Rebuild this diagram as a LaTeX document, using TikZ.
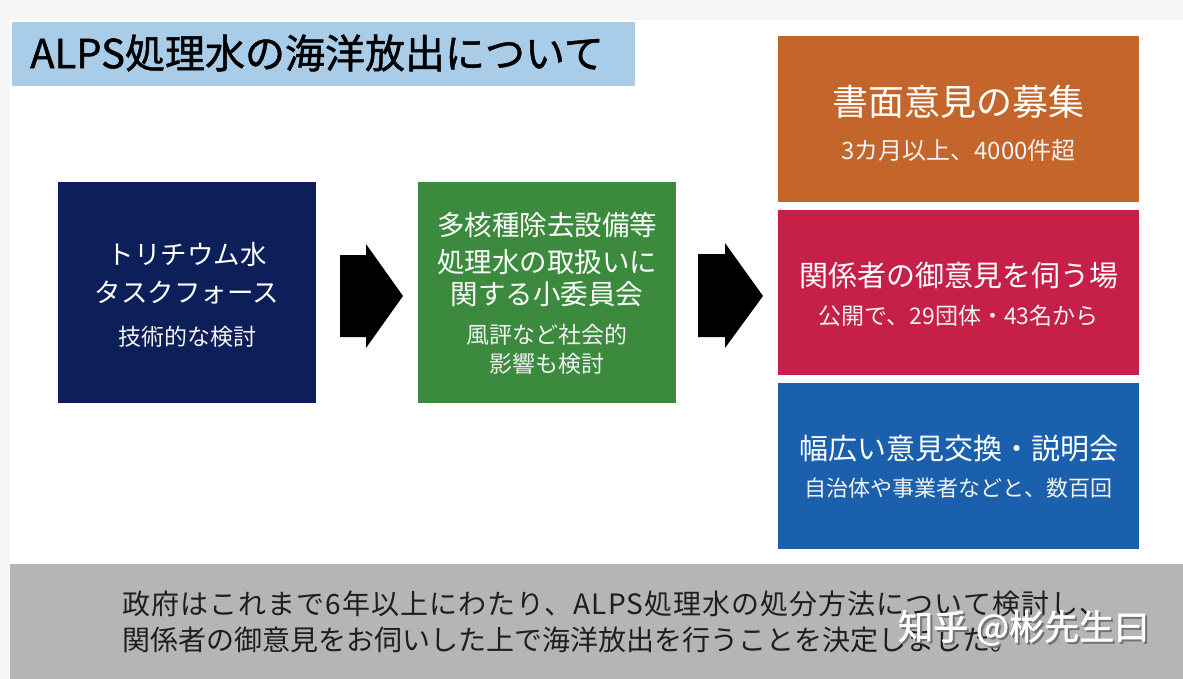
\documentclass[tikz,border=0pt]{standalone}
\usepackage{fontspec}
\setmainfont{Noto Sans CJK JP}
\definecolor{bgtop}{HTML}{F6F6F6}
\definecolor{titlebg}{HTML}{A9CDE8}
\definecolor{navy}{HTML}{0C1F58}
\definecolor{grn}{HTML}{3B8A3E}
\definecolor{org}{HTML}{C4662B}
\definecolor{rd}{HTML}{C62049}
\definecolor{blu}{HTML}{1B60AD}
\definecolor{band}{HTML}{B5B5B5}
\definecolor{bandtext}{HTML}{1E1E1E}
\tikzset{
  box/.style={rectangle, draw=none, inner sep=0pt, anchor=north west},
  head/.style={text=white, inner sep=0pt, anchor=center},
  sub/.style={text=white!90!gray, inner sep=0pt, anchor=center},
  blockarrow/.style={fill=black, draw=none},
  note/.style={text=bandtext, inner sep=0pt, anchor=west, font=\fontsize{28}{30}\selectfont},
}
\begin{document}
\begin{tikzpicture}[x=1pt,y=-1pt]
\useasboundingbox (0,0) rectangle (1183,679);
% background
\fill[bgtop] (0,0) rectangle (1183,679);
\fill[white] (10,20) rectangle (1183,564);
\fill[band] (10,564) rectangle (1183,679);
% title
\node[box, fill=titlebg, minimum width=623pt, minimum height=64pt] (titlebox) at (12,22) {};
\node[inner sep=0pt, anchor=west, font=\fontsize{40}{44}\selectfont\addfontfeature{FakeBold=1.2}] (title) at (30,53) {ALPS処理水の海洋放出について};
% left boxes
\node[box, fill=navy, minimum width=258pt, minimum height=221pt] (tf) at (58,182) {};
\node[head, font=\fontsize{26.5}{30}\selectfont] (tf1) at (187,254) {トリチウム水};
\node[head, font=\fontsize{26.5}{30}\selectfont] (tf2) at (187,293) {タスクフォース};
\node[sub, font=\fontsize{23}{26}\selectfont] (tf3) at (187,337) {技術的な検討};
\node[box, fill=grn, minimum width=258pt, minimum height=221pt] (sc) at (418,182) {};
\node[head, font=\fontsize{27.5}{30}\selectfont] (sc1) at (547,225) {多核種除去設備等};
\node[head, font=\fontsize{27.5}{30}\selectfont] (sc2) at (547,262) {処理水の取扱いに};
\node[head, font=\fontsize{27.5}{30}\selectfont] (sc3) at (547,294) {関する小委員会};
\node[sub, font=\fontsize{23}{26}\selectfont] (sc4) at (547,335) {風評など社会的};
\node[sub, font=\fontsize{23}{26}\selectfont] (sc5) at (547,364) {影響も検討};
% arrows
\fill[blockarrow] (340,255) -- (366,255) -- (366,244) -- (403,296) -- (366,348) -- (366,337) -- (340,337) -- cycle;
\fill[blockarrow] (698,254) -- (725,254) -- (725,243) -- (763,296) -- (725,348) -- (725,337) -- (698,337) -- cycle;
% right boxes
\node[box, fill=org, minimum width=361pt, minimum height=166pt] (wr) at (778,36) {};
\node[head, font=\fontsize{36}{40}\selectfont] (wr1) at (958.5,102) {書面意見の募集};
\node[sub, font=\fontsize{24}{28}\selectfont] (wr2) at (958.5,150) {3カ月以上、4000件超};
\node[box, fill=rd, minimum width=361pt, minimum height=165pt] (hr) at (778,210) {};
\node[head, font=\fontsize{29}{32}\selectfont] (hr1) at (958.5,276) {関係者の御意見を伺う場};
\node[sub, font=\fontsize{23}{26}\selectfont] (hr2) at (958.5,316) {公開で、29団体・43名から};
\node[box, fill=blu, minimum width=361pt, minimum height=166pt] (ex) at (778,383) {};
\node[head, font=\fontsize{29}{32}\selectfont] (ex1) at (958.5,449) {幅広い意見交換・説明会};
\node[sub, font=\fontsize{22}{26}\selectfont] (ex2) at (958.5,488) {自治体や事業者などと、数百回};
% bottom note
\node[note] (n1) at (122,604) {\addfontfeature{LetterSpace=3.8}政府はこれまで6年以上にわたり、ALPS処理水の処分方法について検討し、};
\node[note] (n2) at (122,640) {関係者の御意見をお伺いした上で海洋放出を行うことを決定しました。};
% watermark
\node[inner sep=0pt, anchor=west, text=black!55, font=\fontsize{35}{38}\selectfont\addfontfeature{FakeBold=1.5}] (wm0) at (900,630) {知乎 @彬先生曰};
\node[inner sep=0pt, anchor=west, text=white, font=\fontsize{35}{38}\selectfont\addfontfeature{FakeBold=1.5}] (wm) at (898,628) {知乎 @彬先生曰};
\end{tikzpicture}
\end{document}
